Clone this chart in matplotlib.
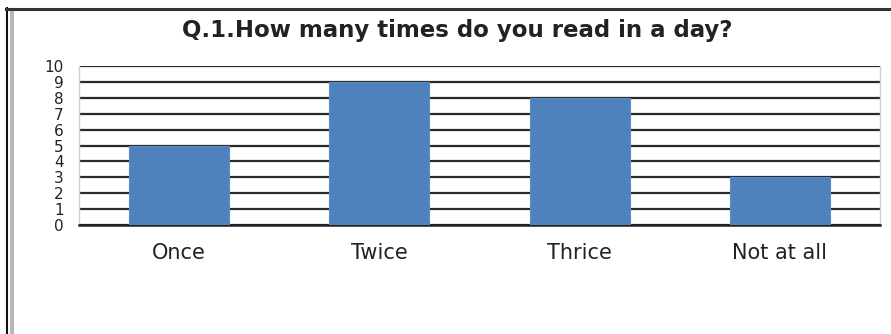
import matplotlib
matplotlib.use("Agg")
import matplotlib.pyplot as plt
from matplotlib.lines import Line2D
from matplotlib.patches import Rectangle

categories = ["Once", "Twice", "Thrice", "Not at all"]
counts = [5, 9, 8, 3]
y_ticks = list(range(0, 11))
title = "Q.1.How many times do you read in a day?"

W, H = 891, 334
fig = plt.figure(figsize=(W / 100, H / 100), dpi=100)
fig.patch.set_facecolor("white")

ax = fig.add_axes([79 / W, 1 - 225 / H, (880 - 79) / W, (225 - 66) / H])
ax.set_facecolor("white")

x = range(len(categories))
ax.bar(x, counts, width=0.5, color="#4F81BD", edgecolor="#5B8CC6",
       linewidth=0.8, zorder=3)

ax.set_xlim(-0.5, len(categories) - 0.5)
ax.set_ylim(0, 10)
ax.set_yticks(y_ticks)
ax.set_yticklabels([str(v) for v in y_ticks], fontsize=11, color="#222222")
ax.set_xticks(list(x))
ax.set_xticklabels(categories, fontsize=15, color="#222222")
ax.tick_params(axis="both", length=0)
ax.tick_params(axis="y", pad=11)
ax.tick_params(axis="x", pad=13)

ax.yaxis.grid(True, color="#2a2a2a", linewidth=1.6, zorder=1)
ax.set_axisbelow(True)

for side in ["left", "right"]:
    ax.spines[side].set_color("#d0d0d0")
    ax.spines[side].set_linewidth(1.0)
ax.spines["top"].set_visible(False)
ax.spines["bottom"].set_color("#222222")
ax.spines["bottom"].set_linewidth(1.8)

fig.text(457 / W, 1 - 30 / H, title, ha="center", va="center",
         fontsize=16.5, fontweight="bold", color="#222222")

# frame around the chart
fig.add_artist(Line2D([6.5 / W, 6.5 / W], [0, 1 - 8 / H], color="#111111",
                      linewidth=1.5, transform=fig.transFigure))
fig.add_artist(Rectangle((10 / W, 0), 4 / W, 1 - 10 / H, color="#b8b8b8",
                         transform=fig.transFigure, linewidth=0))
fig.add_artist(Line2D([6 / W, 1], [1 - 9 / H, 1 - 9 / H], color="#333333",
                      linewidth=2.2, transform=fig.transFigure))

fig.savefig("out.png", dpi=100, facecolor="white")
